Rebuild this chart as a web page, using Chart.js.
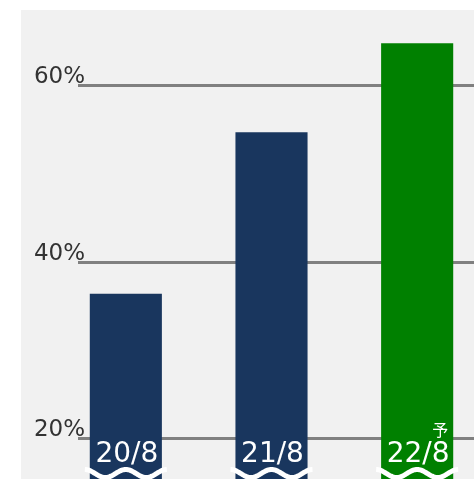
<!DOCTYPE html>
<html>
<head>
<meta charset="utf-8">
<script src="https://cdn.jsdelivr.net/npm/chart.js@4.4.0/dist/chart.umd.min.js"></script>
<style>
  html, body { margin: 0; padding: 0; background: #fff; overflow: hidden; width: 474px; height: 479px; }
  #panel { position: absolute; left: 21px; top: 10px; width: 453px; height: 469px; background: #f1f1f1; }
  #wrap { position: absolute; left: 0; top: 0; width: 490px; height: 479px; }
</style>
</head>
<body>
<div id="panel"></div>
<div id="wrap"><canvas id="chart"></canvas></div>
<script>
// --- Data ---
const categories = ['20/8', '21/8', '22/8'];
const shares = [36.4, 54.7, 64.8];
const notes = ['', '', '予'];
const barColors = ['#19365e', '#19365e', '#008000'];
const yTicks = [20, 40, 60];
const yTickLabels = ['20%', '40%', '60%'];

// gridlines + percent labels, drawn from the y scale
const gridPlugin = {
    id: 'gridPlugin',
    beforeDatasetsDraw(chart) {
        const ctx = chart.ctx;
        const y = chart.scales.y;
        ctx.save();
        ctx.strokeStyle = '#808080';
        ctx.lineWidth = 3;
        ctx.fillStyle = '#333333';
        ctx.font = '23px "DejaVu Sans"';
        ctx.textAlign = 'right';
        ctx.textBaseline = 'alphabetic';
        yTicks.forEach((v, i) => {
            const py = Math.round(y.getPixelForValue(v)) + 0.5;
            ctx.beginPath();
            ctx.moveTo(78, py);
            ctx.lineTo(chart.width, py);
            ctx.stroke();
            ctx.fillText(yTickLabels[i], 85, py - 3);
        });
        ctx.restore();
    }
};

// category labels inside the bars + axis break wave
const labelPlugin = {
    id: 'labelPlugin',
    afterDatasetsDraw(chart) {
        const ctx = chart.ctx;
        const meta = chart.getDatasetMeta(0);
        ctx.save();
        meta.data.forEach((bar, i) => {
            const cx = bar.x;
            ctx.fillStyle = '#ffffff';
            ctx.font = '28px "DejaVu Sans"';
            ctx.textAlign = 'center';
            ctx.textBaseline = 'alphabetic';
            ctx.fillText(categories[i], cx + 1, 462);
            if (notes[i]) {
                ctx.font = '16px "Noto Sans CJK JP"';
                ctx.textAlign = 'right';
                ctx.fillText(notes[i], cx + 31, 436);
            }
            // wavy break line
            ctx.strokeStyle = '#ffffff';
            ctx.lineWidth = 5;
            ctx.beginPath();
            for (let dx = -41; dx <= 41; dx++) {
                const py = 473.5 - 4 * Math.cos(2 * Math.PI * (dx + 41) / 41);
                if (dx === -41) ctx.moveTo(cx + dx, py);
                else ctx.lineTo(cx + dx, py);
            }
            ctx.stroke();
        });
        ctx.restore();
    }
};

new Chart(document.getElementById('chart'), {
    type: 'bar',
    data: {
        labels: categories,
        datasets: [{
            data: shares,
            backgroundColor: barColors,
            borderWidth: 0,
            barPercentage: 0.99,
            categoryPercentage: 0.5
        }]
    },
    options: {
        responsive: true,
        maintainAspectRatio: false,
        animation: false,
        layout: { padding: { left: 53, right: 0, top: 0, bottom: 0 } },
        plugins: {
            legend: { display: false },
            tooltip: { enabled: false }
        },
        scales: {
            x: { display: false },
            y: { display: false, min: 15.39, max: 69.69 }
        }
    },
    plugins: [gridPlugin, labelPlugin]
});
</script>
</body>
</html>
